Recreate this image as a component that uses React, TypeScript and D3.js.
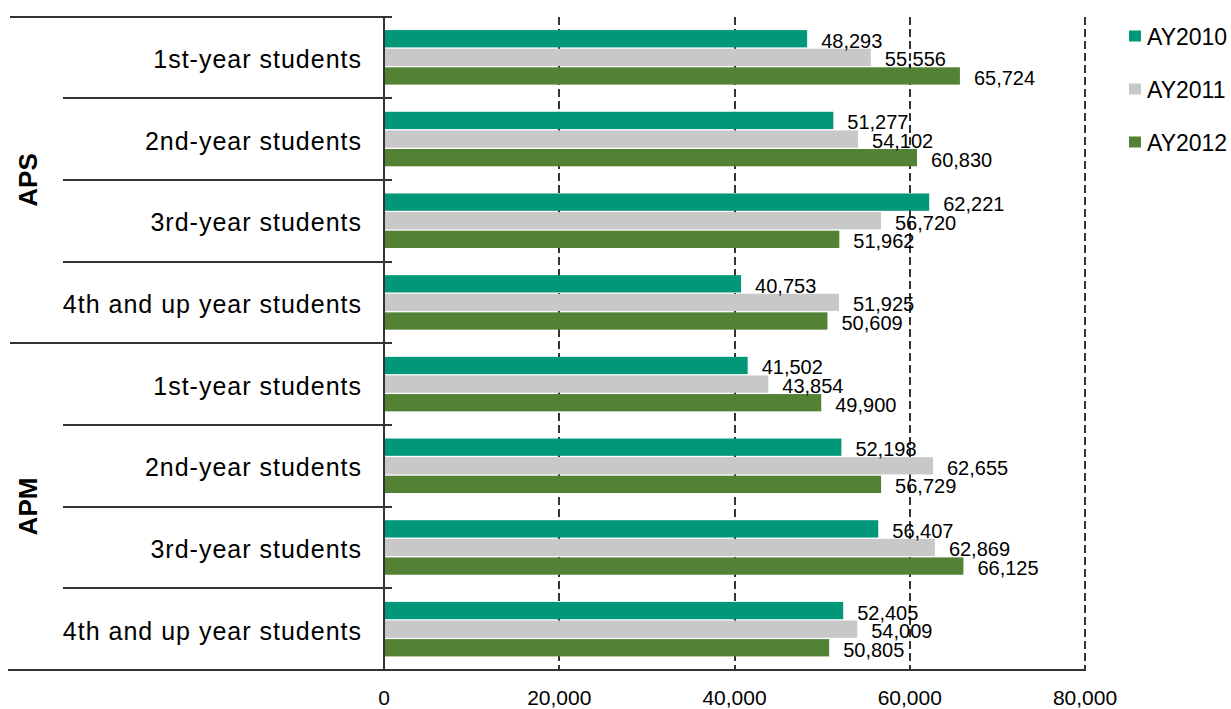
import React from "react";
import * as d3 from "d3";

const groupNames = ["APS", "APM"];
const categoryLabels = [
  "1st-year students",
  "2nd-year students",
  "3rd-year students",
  "4th and up year students",
];
const seriesNames = ["AY2010", "AY2011", "AY2012"];
const seriesColors = ["#009879", "#c8c8c8", "#548235"];
// order: APS 1st..4th, APM 1st..4th
const ay2010 = [48293, 51277, 62221, 40753, 41502, 52198, 56407, 52405];
const ay2011 = [55556, 54102, 56720, 51925, 43854, 62655, 62869, 54009];
const ay2012 = [65724, 60830, 51962, 50609, 49900, 56729, 66125, 50805];
const tickValues = [0, 20000, 40000, 60000, 80000];

const W = 1231;
const H = 709;
const FONT = "'Liberation Sans', Arial, sans-serif";
const LINE = "#333333";

export default function App() {
  const rows = groupNames.flatMap((g, gi) =>
    categoryLabels.map((c, ci) => ({ group: g, label: c, idx: gi * categoryLabels.length + ci }))
  );
  const seriesValues = [ay2010, ay2011, ay2012];

  const x = d3.scaleLinear().domain([0, 80000]).range([384, 1085]);
  const y = d3
    .scaleBand<number>()
    .domain(rows.map((r) => r.idx))
    .range([16.5, 670])
    .padding(0);
  const inner = d3
    .scaleBand<string>()
    .domain(seriesNames)
    .range([0, y.bandwidth()])
    .paddingInner(0.07)
    .paddingOuter(0.73);

  const boundaries = d3.range(rows.length + 1).map((i) =>
    Math.round(i < rows.length ? (y(i) as number) : y.range()[1])
  );
  const fmt = d3.format(",");
  const groupSize = categoryLabels.length;
  const yTop = boundaries[0];
  const yBot = boundaries[rows.length];

  return (
    <svg
      width={W}
      height={H}
      style={{ position: "absolute", left: 0, top: 0, background: "#fff" }}
      fontFamily={FONT}
    >
      {/* gridlines */}
      {tickValues.slice(1).map((t) => (
        <line
          key={"g" + t}
          x1={Math.round(x(t))}
          x2={Math.round(x(t))}
          y1={yTop}
          y2={yBot}
          stroke={LINE}
          strokeWidth={2}
          strokeDasharray="8,4"
        />
      ))}

      {/* bars */}
      {seriesNames.map((s, si) =>
        rows.map((r) => {
          const v = seriesValues[si][r.idx];
          const by = (y(r.idx) as number) + (inner(s) as number);
          return (
            <rect
              key={s + r.idx}
              x={x(0)}
              y={by}
              width={x(v) - x(0)}
              height={inner.bandwidth()}
              fill={seriesColors[si]}
            />
          );
        })
      )}

      {/* data labels */}
      {seriesNames.map((s, si) =>
        rows.map((r) => {
          const v = seriesValues[si][r.idx];
          const cy = (y(r.idx) as number) + (inner(s) as number) + inner.bandwidth() / 2;
          return (
            <text
              key={"l" + s + r.idx}
              x={x(v) + 14}
              y={cy + 9}
              fontSize={20}
              fill="#000"
            >
              {fmt(v)}
            </text>
          );
        })
      )}

      {/* vertical axis */}
      <line x1={x(0)} x2={x(0)} y1={yTop} y2={yBot} stroke={LINE} strokeWidth={2} />

      {/* category separators */}
      {boundaries.map((b, i) => {
        const isBottom = i === rows.length;
        const isGroupEdge = i % groupSize === 0;
        const x1 = isBottom ? 8 : isGroupEdge ? 10 : 63;
        const x2 = isBottom ? x(80000) + 1 : 392;
        return (
          <line key={"b" + i} x1={x1} x2={x2} y1={b} y2={b} stroke={LINE} strokeWidth={2} />
        );
      })}

      {/* category labels */}
      {rows.map((r) => (
        <text
          key={"c" + r.idx}
          x={362}
          y={(y(r.idx) as number) + y.bandwidth() / 2 + 10.5}
          textAnchor="end"
          fontSize={25}
          letterSpacing={1}
          fill="#000"
        >
          {r.label}
        </text>
      ))}

      {/* group labels */}
      {groupNames.map((g, gi) => {
        const top = boundaries[gi * groupSize];
        const bot = boundaries[(gi + 1) * groupSize];
        const cy = (top + bot) / 2;
        return (
          <text
            key={"grp" + g}
            transform={`translate(37, ${cy}) rotate(-90)`}
            textAnchor="middle"
            fontSize={26}
            fontWeight="bold"
            fill="#000"
          >
            {g}
          </text>
        );
      })}

      {/* x tick labels */}
      {tickValues.map((t) => (
        <text key={"t" + t} x={x(t)} y={705} textAnchor="middle" fontSize={21} fill="#000">
          {fmt(t)}
        </text>
      ))}

      {/* legend */}
      {seriesNames.map((s, si) => {
        const cy = 36 + si * 53;
        return (
          <g key={"leg" + s}>
            <rect x={1129} y={cy - 5.5} width={12} height={11} fill={seriesColors[si]} />
            <text x={1147} y={cy + 9} fontSize={23} fill="#000">
              {s}
            </text>
          </g>
        );
      })}
    </svg>
  );
}
